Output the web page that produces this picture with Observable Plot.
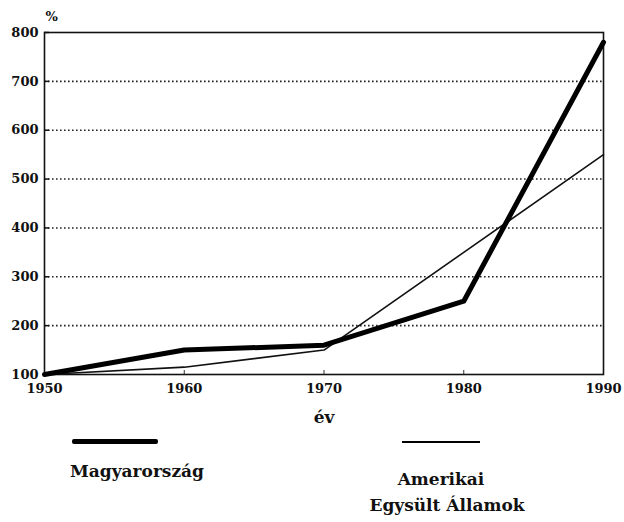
<!DOCTYPE html>
<html>
<head>
<meta charset="utf-8">
<script src="https://cdn.jsdelivr.net/npm/d3@7"></script>
<script src="https://cdn.jsdelivr.net/npm/@observablehq/plot@0.6"></script>
<style>
  body { margin: 0; background: #fff; }
  #wrap { position: relative; width: 624px; height: 522px; font-family: "DejaVu Serif", serif; overflow: hidden; }
  #legend { position: absolute; left: 0; top: 430px; width: 624px; height: 92px; }
  .sw { position: absolute; background: #000; }
  .lt { position: absolute; font-weight: bold; font-size: 17px; line-height: 17px; text-align: center; color: #111; white-space: nowrap; }
</style>
</head>
<body>
<div id="wrap">
  <div id="chart"></div>
  <div id="legend"></div>
</div>
<script>
const years = [1950, 1960, 1970, 1980, 1990];
const hungary = [100, 150, 160, 250, 780];
const usa = [100, 115, 150, 350, 550];
const seriesNames = ["Magyarország", "Amerikai Egysült Államok"];
const usaLines = ["Amerikai", "Egysült Államok"];
const yTicks = [100, 200, 300, 400, 500, 600, 700, 800];
const gridTicks = [200, 300, 400, 500, 600, 700];
const xLabel = "év";
const yUnit = "%";

const data = [];
years.forEach((y, i) => data.push({year: y, value: hungary[i], s: seriesNames[0]}));
years.forEach((y, i) => data.push({year: y, value: usa[i], s: seriesNames[1]}));

const chart = Plot.plot({
  width: 624,
  height: 430,
  marginLeft: 44,
  marginRight: 21,
  marginTop: 32,
  marginBottom: 56,
  style: {fontFamily: "'DejaVu Serif', serif", fontWeight: "bold", fontSize: "13px", color: "#111"},
  x: {type: "linear", domain: [1950, 1990]},
  y: {type: "linear", domain: [100, 800]},
  marks: [
    Plot.ruleY(gridTicks, {stroke: "#222", strokeWidth: 1.6, strokeDasharray: "1.6,2.4"}),
    Plot.frame({stroke: "#111", strokeWidth: 1.6}),
    Plot.axisX(years, {tickSize: 0, tickPadding: 9, tickFormat: d => String(d), label: null, fontSize: 13}),
    Plot.axisX(years.slice(1, 4), {tickSize: -4, tickFormat: () => "", label: null, stroke: "#333"}),
    Plot.axisY(yTicks, {tickSize: 0, tickPadding: 6, label: null, fontSize: 13}),
    Plot.axisY(gridTicks.concat([800]), {tickSize: -5, tickFormat: () => "", label: null, stroke: "#111", strokeWidth: 1.5}),
    Plot.text([xLabel], {frameAnchor: "bottom", dy: 48, fontSize: 17, fontWeight: "bold"}),
    Plot.text([yUnit], {frameAnchor: "top-left", dy: -21, dx: 1, fontSize: 13, fontWeight: "bold"}),
    Plot.line(data.filter(d => d.s === seriesNames[1]), {x: "year", y: "value", stroke: "#111", strokeWidth: 1.6}),
    Plot.line(data.filter(d => d.s === seriesNames[0]), {x: "year", y: "value", stroke: "#000", strokeWidth: 5, strokeLinejoin: "round"})
  ]
});
document.getElementById("chart").appendChild(chart);

const legend = document.getElementById("legend");
legend.innerHTML = `
  <div class="sw" style="left:72px; top:9px; width:86px; height:5px; border-radius:2px;"></div>
  <div class="lt" style="left:37px; top:33px; width:200px;">${seriesNames[0]}</div>
  <div class="sw" style="left:402px; top:11px; width:78px; height:2px;"></div>
  <div class="lt" style="left:341px; top:41px; width:200px;">${usaLines[0]}</div>
  <div class="lt" style="left:347px; top:67px; width:200px;">${usaLines[1]}</div>
`;
</script>
</body>
</html>
